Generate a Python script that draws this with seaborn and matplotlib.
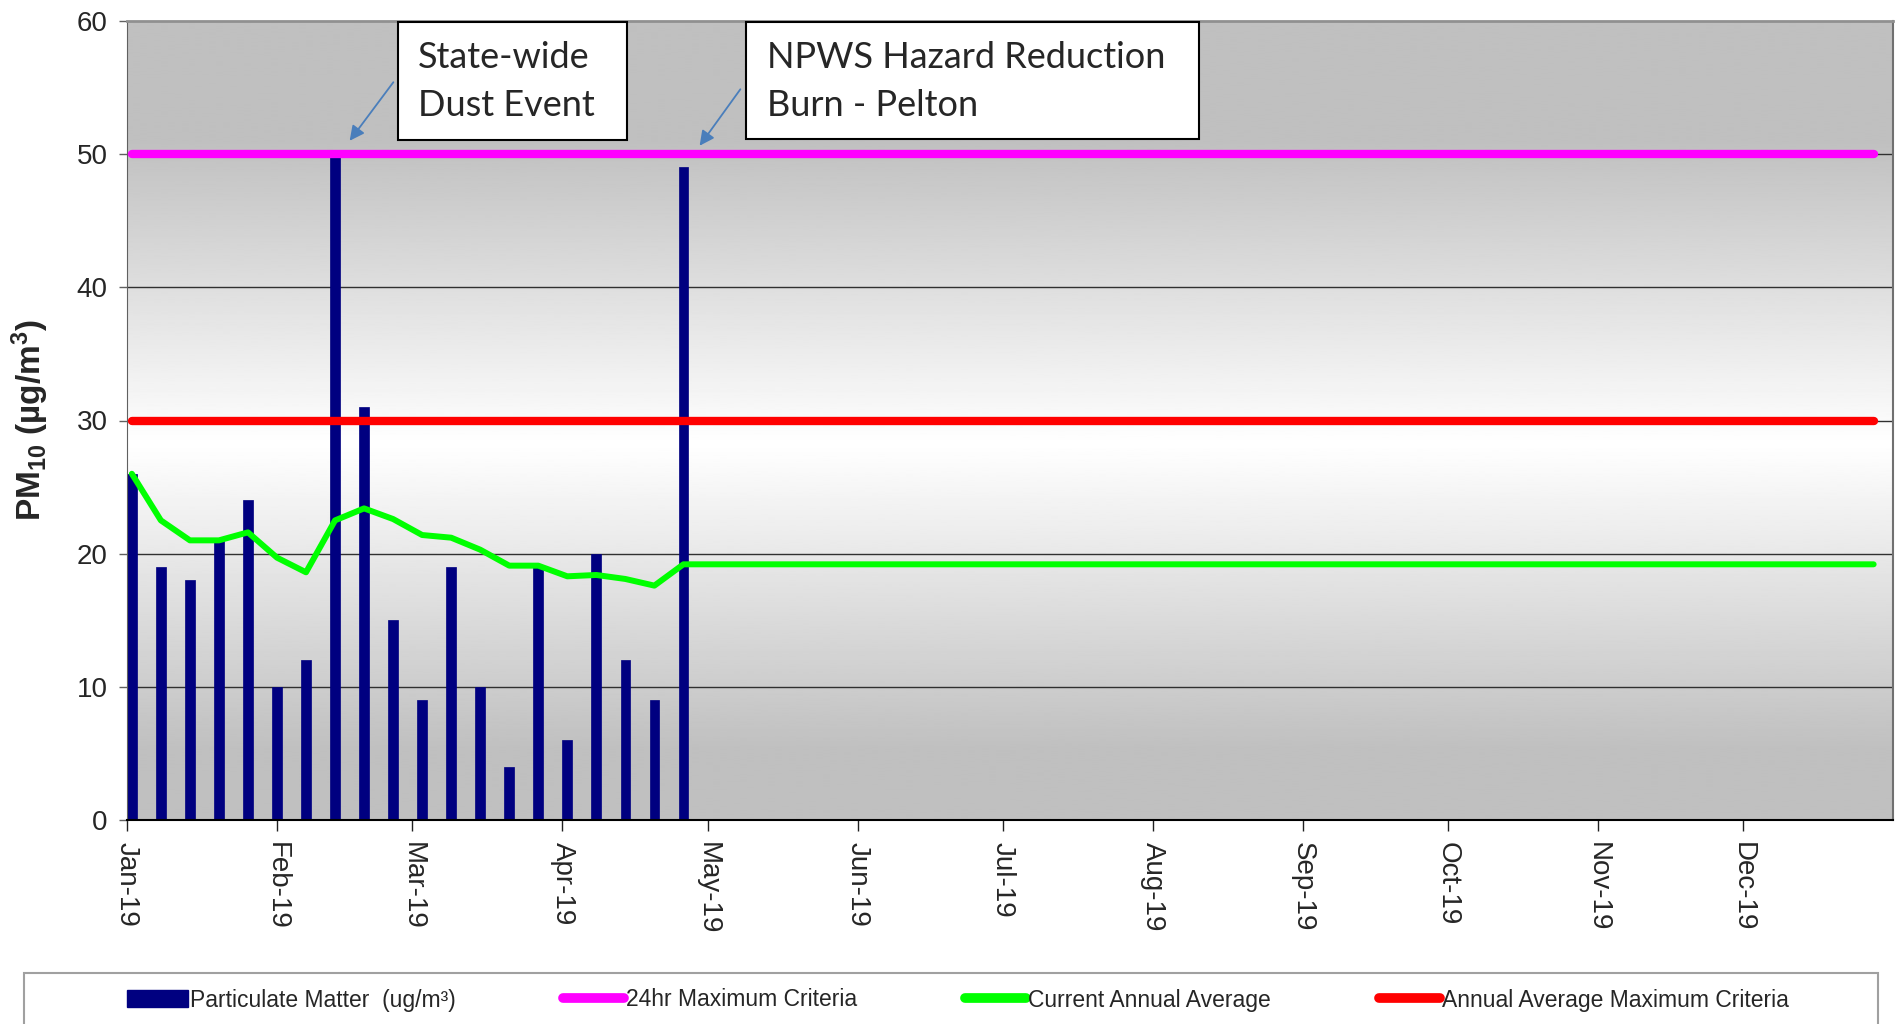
import matplotlib.pyplot as plt
import matplotlib.dates as mdates
from matplotlib.patches import Rectangle, Patch, FancyArrowPatch
from matplotlib.lines import Line2D
import numpy as np
import pandas as pd
import seaborn as sns

# samples every 6th day
sample_dates = pd.date_range("2019-01-02", periods=20, freq="6D")
pm10 = [26, 19, 18, 21, 24, 10, 12, 50, 31, 15, 9, 19, 10, 4, 19, 6, 20, 12, 9, 49]

avg_dates = list(sample_dates) + [pd.Timestamp("2019-12-28")]
annual_avg = [26.0, 22.5, 21.0, 21.0, 21.6, 19.7, 18.6, 22.5, 23.4, 22.6, 21.4,
              21.2, 20.3, 19.1, 19.1, 18.3, 18.4, 18.1, 17.6, 19.2, 19.2]

criteria_dates = [pd.Timestamp("2019-01-02"), pd.Timestamp("2019-12-28")]
max_24hr = [50, 50]
annual_max = [30, 30]

month_ticks = pd.date_range("2019-01-01", periods=12, freq="MS")

sns.set_style("white")
plt.rcParams["font.family"] = ["Liberation Sans", "DejaVu Sans"]
plt.rcParams["mathtext.default"] = "regular"

fig = plt.figure(figsize=(18.96, 10.24), dpi=100)
ax = fig.add_axes([127 / 1896, 1 - 820 / 1024, 1766 / 1896, 799 / 1024])

# grey-white-grey background
f = np.linspace(0, 1, 512)
shade = 0.753 + (1 - 0.753) * np.clip(1 - np.abs(f - 0.47) / 0.38, 0, 1)
ax.imshow(shade[:, None], cmap="gray", vmin=0, vmax=1, extent=[0, 1, 0, 1],
          transform=ax.transAxes, aspect="auto", origin="lower", zorder=0,
          interpolation="bilinear")

for v in range(10, 60, 10):
    ax.axhline(v, color="#303030", lw=1, zorder=1)

ax.bar(sample_dates, pm10, width=2.0, color="#000080", edgecolor="#000080",
       linewidth=0.5, zorder=2)
sns.lineplot(x=avg_dates, y=annual_avg, ax=ax, color="#00ff00", lw=4.3, zorder=3)
sns.lineplot(x=criteria_dates, y=annual_max, ax=ax, color="#ff0000", lw=6,
             solid_capstyle="round", zorder=4)
sns.lineplot(x=criteria_dates, y=max_24hr, ax=ax, color="#ff00ff", lw=6,
             solid_capstyle="round", zorder=5)

ax.set_xlim(pd.Timestamp("2019-01-01"), pd.Timestamp("2020-01-01"))
ax.set_ylim(0, 60)
ax.set_yticks(range(0, 70, 10))
ax.set_xticks(month_ticks)
ax.xaxis.set_major_formatter(mdates.DateFormatter("%b-%y"))
ax.tick_params(axis="x", direction="out", length=8, width=1, color="#202020",
               labelsize=20, pad=8, labelrotation=-90, bottom=True)
ax.tick_params(axis="y", direction="out", length=6, width=1, color="#606060",
               labelsize=20, pad=8, left=True)
for lab in ax.get_xticklabels():
    lab.set_ha("center")

ax.spines["left"].set_color("#606060")
ax.spines["bottom"].set_color("#000000")
ax.spines["bottom"].set_linewidth(1.5)
ax.spines["top"].set_color("#909090")
ax.spines["top"].set_linewidth(2)
ax.spines["right"].set_color("#707070")
ax.spines["right"].set_linewidth(1.5)

ax.set_ylabel("PM$_{10}$ (µg/m$^{3}$)", fontsize=24, fontweight="bold", va="center")
ax.yaxis.set_label_coords(-0.055, 0.5)

# event call-outs
callout_font = ["Lato", "DejaVu Sans"]
fig.add_artist(Rectangle((3.98, 8.84), 2.29, 1.18, transform=fig.dpi_scale_trans,
                         facecolor="white", edgecolor="black", lw=1.5, zorder=10))
fig.add_artist(Rectangle((7.46, 8.85), 4.53, 1.17, transform=fig.dpi_scale_trans,
                         facecolor="white", edgecolor="black", lw=1.5, zorder=10))
fig.text(418 / 1896, 1 - 58 / 1024, "State-wide", fontsize=26, va="center",
         family=callout_font, zorder=11)
fig.text(418 / 1896, 1 - 105 / 1024, "Dust Event", fontsize=26, va="center",
         family=callout_font, zorder=11)
fig.text(767 / 1896, 1 - 58 / 1024, "NPWS Hazard Reduction", fontsize=26, va="center",
         family=callout_font, zorder=11)
fig.text(767 / 1896, 1 - 105 / 1024, "Burn - Pelton", fontsize=26, va="center",
         family=callout_font, zorder=11)
for a, b in [((3.95, 9.44), (3.48, 8.81)), ((7.42, 9.37), (6.98, 8.76))]:
    fig.add_artist(FancyArrowPatch(a, b, transform=fig.dpi_scale_trans,
                                   arrowstyle="-|>", mutation_scale=22,
                                   color="#4a7ebb", lw=1.3, zorder=9))

# legend
fig.add_artist(Rectangle((0.24, -0.1), 18.54, 0.61, transform=fig.dpi_scale_trans,
                         facecolor="white", edgecolor="#a0a0a0", lw=1.5, zorder=1))
handles = [Patch(facecolor="#000080", edgecolor="#000080"),
           Line2D([], [], color="#ff00ff", lw=7, solid_capstyle="round"),
           Line2D([], [], color="#00ff00", lw=7, solid_capstyle="round"),
           Line2D([], [], color="#ff0000", lw=7, solid_capstyle="round")]
labels = ["Particulate Matter  (ug/m³)", "24hr Maximum Criteria",
          "Current Annual Average", "Annual Average Maximum Criteria"]
leg = fig.legend(handles, labels, loc="center left",
                 bbox_to_anchor=(127 / 1896, 24 / 1024), ncol=4, frameon=False,
                 prop={"family": ["Liberation Sans"], "size": 16.5},
                 handlelength=2.65, handletextpad=0.1, columnspacing=4.7,
                 borderaxespad=0, borderpad=0)
leg.set_zorder(5)

fig.savefig("out.png", dpi=100)
plt.close(fig)
